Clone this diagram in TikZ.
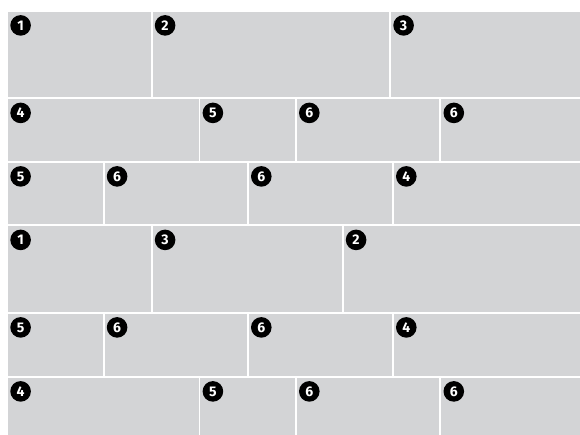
\documentclass[tikz,border=0pt]{standalone}
\usepackage{fontspec}
\setmainfont{Fira Sans}
\definecolor{tilegray}{RGB}{211,212,214}
\tikzset{
  tile/.style={fill=tilegray, draw=none},
  badge/.style={circle, fill=black, text=white, inner sep=0pt, minimum size=20.6pt,
    font=\fontsize{14}{14}\selectfont\bfseries},
}
\newcommand{\tilecell}[6]{%
  \path[tile] (#1,#2) rectangle (#3,#4);
  \node[badge] (#6) at ({#1+12.6},{#2+13.4}) {#5};
}
\begin{document}
\begin{tikzpicture}[x=1pt,y=-1pt]
\useasboundingbox (0,0) rectangle (580,435);
\fill[white] (0,0) rectangle (580,435);
% row 1
\tilecell{8}{12}{150.5}{97.5}{1}{r1a}
\tilecell{152.5}{12}{389}{97.5}{2}{r1b}
\tilecell{391}{12}{580}{97.5}{3}{r1c}
% row 2
\tilecell{8}{99.5}{198.5}{161}{4}{r2a}
\tilecell{200.3}{99.5}{294.8}{161}{5}{r2b}
\tilecell{296.7}{99.5}{439.3}{161}{6}{r2c}
\tilecell{441.2}{99.5}{580}{161}{6}{r2d}
% row 3
\tilecell{8}{163}{102.6}{224.5}{5}{r3a}
\tilecell{104.5}{163}{246.7}{224.5}{6}{r3b}
\tilecell{248.7}{163}{391.7}{224.5}{6}{r3c}
\tilecell{393.7}{163}{580}{224.5}{4}{r3d}
% row 4
\tilecell{8}{226.5}{150.5}{312}{1}{r4a}
\tilecell{152.5}{226.5}{341.5}{312}{3}{r4b}
\tilecell{343.5}{226.5}{580}{312}{2}{r4c}
% row 5
\tilecell{8}{314}{102.6}{376}{5}{r5a}
\tilecell{104.5}{314}{246.7}{376}{6}{r5b}
\tilecell{248.7}{314}{391.7}{376}{6}{r5c}
\tilecell{393.7}{314}{580}{376}{4}{r5d}
% row 6
\tilecell{8}{378}{198.5}{435}{4}{r6a}
\tilecell{200.3}{378}{294.8}{435}{5}{r6b}
\tilecell{296.7}{378}{439.3}{435}{6}{r6c}
\tilecell{441.2}{378}{580}{435}{6}{r6d}
\end{tikzpicture}
\end{document}
